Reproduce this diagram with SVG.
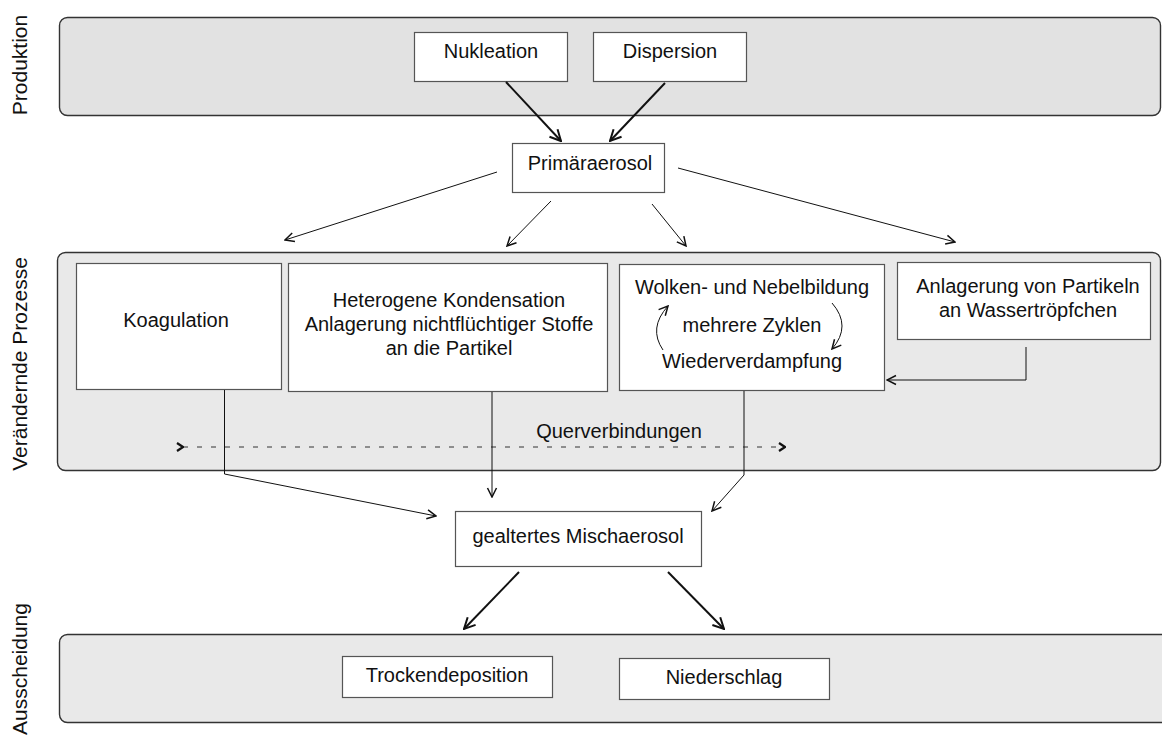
<svg xmlns="http://www.w3.org/2000/svg" width="1162" height="742" viewBox="0 0 1162 742">
  <style>
    text { font-family: "Liberation Sans", Arial, sans-serif; font-size: 20px; fill: #111; }
    .side { font-size: 21px; }
    .panel { stroke: #333; stroke-width: 1.4; }
    .box { fill: #fff; stroke: #555; stroke-width: 1.2; }
    .thin { fill: none; stroke: #111; stroke-width: 1; }
    .thick { fill: none; stroke: #111; stroke-width: 2; }
    .dash { fill: none; stroke: #333; stroke-width: 1; stroke-dasharray: 5 9; }
  </style>
  <defs>
    <marker id="aThin" markerUnits="userSpaceOnUse" viewBox="-11 -6 12 12" refX="0" refY="0" markerWidth="12" markerHeight="12" orient="auto">
      <path d="M -9,-4.5 L 0,0 L -9,4.5" fill="none" stroke="#111" stroke-width="1.5"/>
    </marker>
    <marker id="aThick" markerUnits="userSpaceOnUse" viewBox="-13 -7 14 14" refX="0" refY="0" markerWidth="14" markerHeight="14" orient="auto">
      <path d="M -11,-5.5 L 0,0 L -11,5.5" fill="none" stroke="#111" stroke-width="2"/>
    </marker>
    <marker id="aDash" markerUnits="userSpaceOnUse" viewBox="-8 -6 9 12" refX="0" refY="0" markerWidth="9" markerHeight="12" orient="auto">
      <path d="M -6,-4 L 0,0 L -6,4" fill="none" stroke="#111" stroke-width="2.2"/>
    </marker>
  </defs>

  <!-- panels -->
  <g id="panel-produktion">
    <rect class="panel" x="59.5" y="17.5" width="1101" height="98" rx="8" fill="#e2e2e2"/>
    <text class="side" transform="translate(27,65) rotate(-90)" text-anchor="middle">Produktion</text>
  </g>
  <g id="panel-prozesse">
    <rect class="panel" x="57.5" y="252.5" width="1103" height="218" rx="8" fill="#e9e9e9"/>
    <text class="side" transform="translate(27,364) rotate(-90)" text-anchor="middle">Verändernde Prozesse</text>
  </g>
  <g id="panel-ausscheidung">
    <rect class="panel" x="59.5" y="634.5" width="1110" height="88" rx="8" fill="#e9e9e9"/>
    <text class="side" transform="translate(27,669) rotate(-90)" text-anchor="middle">Ausscheidung</text>
  </g>

  <!-- nodes -->
  <g id="nukleation">
    <rect class="box" x="414.5" y="32.5" width="153" height="49"/>
    <text x="491" y="58" text-anchor="middle">Nukleation</text>
  </g>
  <g id="dispersion">
    <rect class="box" x="593.5" y="32.5" width="153" height="49"/>
    <text x="670" y="58" text-anchor="middle">Dispersion</text>
  </g>
  <g id="primaeraerosol">
    <rect class="box" x="512.5" y="143.5" width="152" height="49"/>
    <text x="590" y="170" text-anchor="middle">Primäraerosol</text>
  </g>
  <g id="koagulation">
    <rect class="box" x="76.5" y="263.5" width="205" height="126"/>
    <text x="176" y="327" text-anchor="middle">Koagulation</text>
  </g>
  <g id="kondensation">
    <rect class="box" x="288.5" y="263.5" width="319" height="128"/>
    <text x="449" y="307" text-anchor="middle">Heterogene Kondensation</text>
    <text x="449" y="331" text-anchor="middle">Anlagerung nichtflüchtiger Stoffe</text>
    <text x="449" y="355" text-anchor="middle">an die Partikel</text>
  </g>
  <g id="wolken">
    <rect class="box" x="619.5" y="264.5" width="265" height="126"/>
    <text x="752" y="294" text-anchor="middle">Wolken- und Nebelbildung</text>
    <text x="752" y="332" text-anchor="middle">mehrere Zyklen</text>
    <text x="752" y="368" text-anchor="middle">Wiederverdampfung</text>
    <path class="thin" d="M 663,350 Q 648,328 668,306" marker-end="url(#aThin)"/>
    <path class="thin" d="M 832,303 Q 852,326 832,349" marker-end="url(#aThin)"/>
  </g>
  <g id="anlagerung">
    <rect class="box" x="897.5" y="262.5" width="253" height="77"/>
    <text x="1028" y="293" text-anchor="middle">Anlagerung von Partikeln</text>
    <text x="1028" y="317" text-anchor="middle">an Wassertröpfchen</text>
  </g>
  <g id="querverbindungen">
    <text x="619" y="438" text-anchor="middle">Querverbindungen</text>
  </g>
  <g id="mischaerosol">
    <rect class="box" x="455.5" y="511.5" width="246" height="55"/>
    <text x="578" y="543" text-anchor="middle">gealtertes Mischaerosol</text>
  </g>
  <g id="trockendeposition">
    <rect class="box" x="342.5" y="656.5" width="210" height="41"/>
    <text x="447" y="682" text-anchor="middle">Trockendeposition</text>
  </g>
  <g id="niederschlag">
    <rect class="box" x="619.5" y="658.5" width="210" height="41"/>
    <text x="724" y="684" text-anchor="middle">Niederschlag</text>
  </g>

  <!-- connectors -->
  <g id="connectors">
    <line class="thick" x1="506" y1="82" x2="561" y2="141" marker-end="url(#aThick)"/>
    <line class="thick" x1="665" y1="83" x2="610" y2="141" marker-end="url(#aThick)"/>
    <line class="thin" x1="497" y1="172" x2="285" y2="240" marker-end="url(#aThin)"/>
    <line class="thin" x1="551" y1="201" x2="507" y2="246" marker-end="url(#aThin)"/>
    <line class="thin" x1="652" y1="204" x2="686" y2="246" marker-end="url(#aThin)"/>
    <line class="thin" x1="678" y1="168" x2="955" y2="242" marker-end="url(#aThin)"/>
    <polyline class="thin" points="1026,347 1026,380 887,380" marker-end="url(#aThin)"/>
    <line class="dash" x1="183" y1="447" x2="785" y2="447" marker-start="url(#aDash)" marker-end="url(#aDash)"/>
    <polyline class="thin" points="224.5,390 224.5,474 436,516" marker-end="url(#aThin)"/>
    <line class="thin" x1="492" y1="392" x2="492" y2="497" marker-end="url(#aThin)"/>
    <polyline class="thin" points="744,391 744,475 712,511" marker-end="url(#aThin)"/>
    <line class="thick" x1="519" y1="572" x2="464" y2="629" marker-end="url(#aThick)"/>
    <line class="thick" x1="668" y1="572" x2="724" y2="629" marker-end="url(#aThick)"/>
  </g>
</svg>
